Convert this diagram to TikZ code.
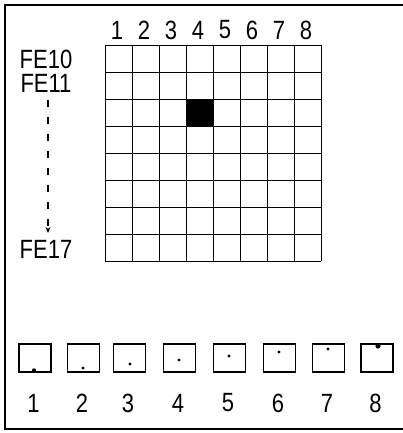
\documentclass[tikz,border=0pt]{standalone}
\usepackage{fontspec}
\setmainfont{Liberation Sans}
\usetikzlibrary{arrows.meta}
\newcommand{\tall}[1]{\scalebox{1}[1.2]{#1}}
\begin{document}
\begin{tikzpicture}[x=1pt,y=-1pt,
  lbl/.style={font=\fontsize{22}{24}\selectfont, inner sep=0pt},
  gridline/.style={line width=0.9pt},
  smallbox/.style={draw, line width=1.1pt, minimum width=32pt, minimum height=28pt, inner sep=0pt},
  frame/.style={line width=2.6pt}]
\useasboundingbox (0,0) rectangle (402,433);
% frame (open at the right)
\draw[frame] (404,5) -- (5,5) -- (5,429) -- (404,429);
% grid
\fill (186,99) rectangle (213,126);
\foreach \k in {0,...,8} {
  \draw[gridline] ({105+27*\k},45) -- ({105+27*\k},261);
  \draw[gridline] (105,{45+27*\k}) -- (321,{45+27*\k});
}
% column labels
\foreach \i in {1,...,8} {
  \node[lbl] (c\i) at ({118.5+27*(\i-1)-1.5},30) {\tall{\i}};
}
% row labels
\node[lbl] (fe10) at (46,59) {\tall{FE10}};
\node[lbl] (fe11) at (46,83) {\tall{FE11}};
\node[lbl] (fe17) at (46,249) {\tall{FE17}};
\coordinate (a0) at (48,100);
\coordinate (a1) at (48,233);
\draw[line width=1.3pt, dash pattern=on 7pt off 10pt, -{Stealth[length=6pt,width=5pt]}] (a0) -- (a1);
% bottom boxes
\foreach \i/\cx in {1/35,2/83.5,3/129.5,4/179.5,5/229.5,6/279.5,7/328.5,8/377} {
  \node[smallbox] (b\i) at (\cx,358) {};
  \node[lbl] (n\i) at (\cx-1.5,403) {\tall{\i}};
}
\foreach \i/\cx/\dy in {2/83/368,3/130/364,4/179/360,5/229/356,6/279/352,7/328/349} {
  \fill (\cx,\dy) circle (1.6pt);
}
\fill (34,370.5) circle (2.2pt);
\fill (378,346) circle (2.6pt);
\end{tikzpicture}
\end{document}
